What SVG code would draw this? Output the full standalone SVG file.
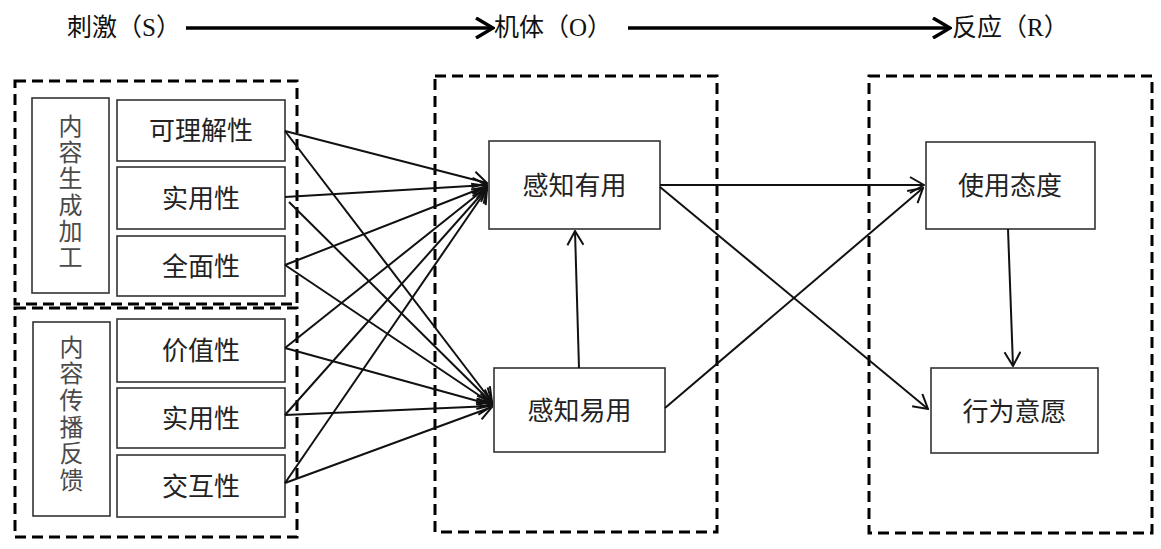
<svg xmlns="http://www.w3.org/2000/svg" width="1161" height="549" viewBox="0 0 1161 549">
<defs>
<style>
.dash{fill:none;stroke:#000;stroke-width:3;stroke-dasharray:11 6}
.box{fill:#fff;stroke:#333;stroke-width:1.6}
.t{font-family:"Noto Sans CJK SC","Noto Sans",sans-serif;font-size:26px;fill:#222;text-anchor:middle}
.v{font-family:"Noto Sans CJK SC","Noto Sans",sans-serif;font-size:24px;fill:#4a4a4a;text-anchor:middle}
.h{font-family:"Noto Sans CJK SC","Noto Sans",sans-serif;font-size:25px;fill:#111}
.lat{font-family:"Liberation Serif",serif}
.c{fill:none;stroke:#111;stroke-width:2}
.hc{fill:none;stroke:#000;stroke-width:3.5}
</style>
<marker id="a" markerUnits="userSpaceOnUse" viewBox="0 0 16 18" markerWidth="16" markerHeight="18" refX="15" refY="9" orient="auto">
<path d="M1,1 L15,9 L1,17" fill="none" stroke="#111" stroke-width="2"/>
</marker>
<marker id="ah" markerUnits="userSpaceOnUse" viewBox="0 0 20 22" markerWidth="20" markerHeight="22" refX="18" refY="11" orient="auto">
<path d="M1,1 L18,11 L1,21" fill="none" stroke="#000" stroke-width="3.5"/>
</marker>
</defs>
<rect width="1161" height="549" fill="#fff"/>

<g id="header">
<text class="h" x="67" y="36">刺激（<tspan class="lat">S</tspan>）</text>
<text class="h" x="494" y="36">机体（<tspan class="lat">O</tspan>）</text>
<text class="h" x="952" y="36">反应（<tspan class="lat">R</tspan>）</text>
<line class="hc" x1="186" y1="28" x2="493" y2="28" marker-end="url(#ah)"/>
<line class="hc" x1="628" y1="28" x2="950" y2="28" marker-end="url(#ah)"/>
</g>

<g id="groups">
<rect class="dash" x="15" y="81" width="282" height="223"/>
<rect class="dash" x="15" y="308" width="282" height="229"/>
<rect class="dash" x="435" y="76" width="282" height="456"/>
<rect class="dash" x="869" y="76" width="283" height="457"/>
</g>

<g id="n-gen">
<rect class="box" x="32" y="98" width="77" height="195"/>
<text class="v" x="70.5" y="192.5" writing-mode="vertical-rl" letter-spacing="2.2">内容生成加工</text>
</g>
<g id="n-spread">
<rect class="box" x="33" y="322" width="77" height="194"/>
<text class="v" x="71.5" y="414.5" writing-mode="vertical-rl" letter-spacing="2.7">内容传播反馈</text>
</g>

<g id="n-s1"><rect class="box" x="117" y="100" width="168" height="61"/><text class="t" x="201" y="140.4">可理解性</text></g>
<g id="n-s2"><rect class="box" x="117" y="167" width="168" height="62"/><text class="t" x="201" y="208">实用性</text></g>
<g id="n-s3"><rect class="box" x="117" y="236" width="168" height="60"/><text class="t" x="201" y="276">全面性</text></g>
<g id="n-s4"><rect class="box" x="117" y="319" width="168" height="63"/><text class="t" x="201" y="360.4">价值性</text></g>
<g id="n-s5"><rect class="box" x="117" y="388" width="168" height="60"/><text class="t" x="201" y="428">实用性</text></g>
<g id="n-s6"><rect class="box" x="117" y="455" width="168" height="62"/><text class="t" x="201" y="496">交互性</text></g>

<g id="n-pu"><rect class="box" x="489" y="141" width="171" height="88"/><text class="t" x="574.5" y="195">感知有用</text></g>
<g id="n-peou"><rect class="box" x="494" y="368" width="171" height="84"/><text class="t" x="579.5" y="420">感知易用</text></g>
<g id="n-att"><rect class="box" x="926" y="142" width="169" height="87"/><text class="t" x="1010" y="195">使用态度</text></g>
<g id="n-bi"><rect class="box" x="931" y="368" width="167" height="85"/><text class="t" x="1014.5" y="420.5">行为意愿</text></g>

<g id="connectors">
<line class="c" x1="285" y1="131" x2="487" y2="183" marker-end="url(#a)"/>
<line class="c" x1="285" y1="197" x2="487" y2="185" marker-end="url(#a)"/>
<line class="c" x1="285" y1="265" x2="487" y2="186" marker-end="url(#a)"/>
<line class="c" x1="285" y1="348" x2="487" y2="187" marker-end="url(#a)"/>
<line class="c" x1="285" y1="415" x2="487" y2="188" marker-end="url(#a)"/>
<line class="c" x1="285" y1="483" x2="487" y2="189" marker-end="url(#a)"/>
<line class="c" x1="285" y1="131" x2="492" y2="402" marker-end="url(#a)"/>
<line class="c" x1="289" y1="202" x2="492" y2="403" marker-end="url(#a)"/>
<line class="c" x1="285" y1="265" x2="492" y2="404" marker-end="url(#a)"/>
<line class="c" x1="285" y1="348" x2="492" y2="405" marker-end="url(#a)"/>
<line class="c" x1="285" y1="415" x2="492" y2="406" marker-end="url(#a)"/>
<line class="c" x1="285" y1="483" x2="492" y2="407" marker-end="url(#a)"/>
<line class="c" x1="579" y1="368" x2="575" y2="231" marker-end="url(#a)"/>
<line class="c" x1="660" y1="185" x2="924" y2="185" marker-end="url(#a)"/>
<line class="c" x1="660" y1="187" x2="928" y2="409" marker-end="url(#a)"/>
<line class="c" x1="665" y1="408" x2="923" y2="188" marker-end="url(#a)"/>
<line class="c" x1="1008" y1="229" x2="1013" y2="366" marker-end="url(#a)"/>
</g>
</svg>
